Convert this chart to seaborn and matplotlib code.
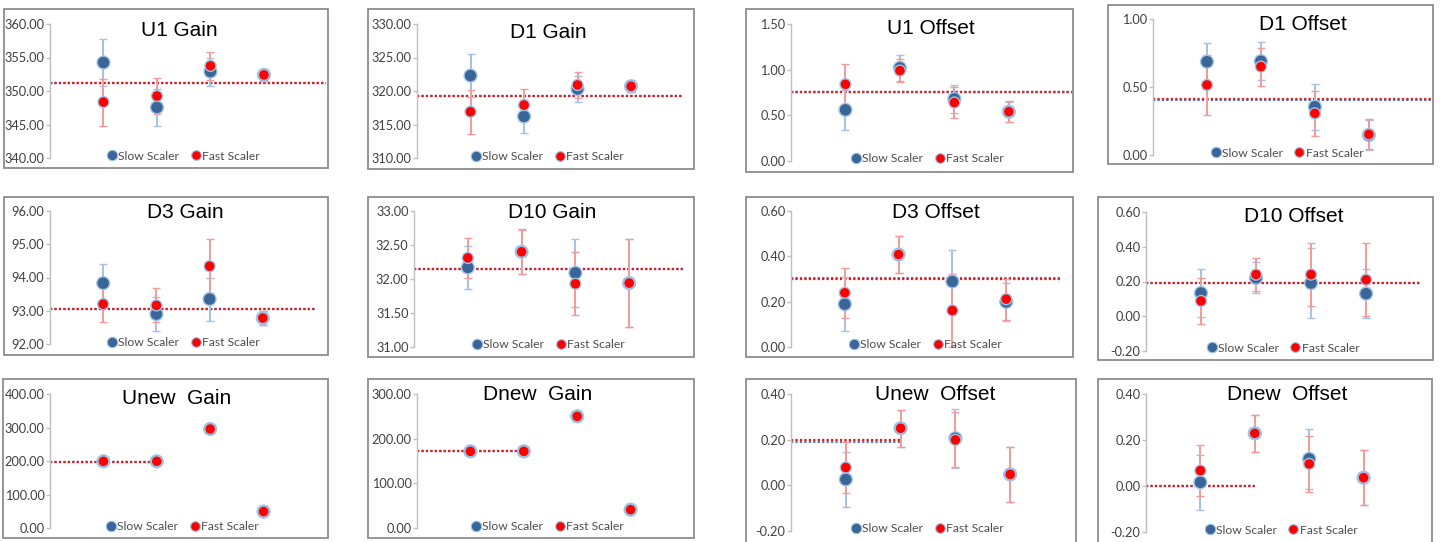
import matplotlib
matplotlib.use("Agg")
import matplotlib.pyplot as plt
from matplotlib.lines import Line2D
from matplotlib.patches import Rectangle
import pandas as pd
import seaborn as sns

W, H = 1440, 542

# ---- values ----
points = [1, 2, 3, 4]
series_names = ["Slow Scaler", "Fast Scaler"]

u1_gain_slow = [354.25, 347.55, 352.9, 352.4]
u1_gain_slow_err = [3.45, 2.7, 2.1, 0.9]
u1_gain_fast = [348.35, 349.25, 353.75, 352.4]
u1_gain_fast_err = [3.5, 2.65, 2.05, 0.9]
u1_gain_avg = [351.15, 351.15]

d1_gain_slow = [322.3, 316.2, 320.3, 320.7]
d1_gain_slow_err = [3.2, 2.4, 2.0, 0.8]
d1_gain_fast = [316.9, 317.9, 320.9, 320.7]
d1_gain_fast_err = [3.3, 2.45, 2.0, 0.9]
d1_gain_avg = [319.2, 319.2]

u1_offset_slow = [0.56, 1.02, 0.68, 0.54]
u1_offset_slow_err = [0.22, 0.145, 0.15, 0.11]
u1_offset_fast = [0.84, 0.99, 0.64, 0.54]
u1_offset_fast_err = [0.225, 0.13, 0.17, 0.115]
u1_offset_avg = [0.754, 0.754]

d1_offset_slow = [0.686, 0.69, 0.355, 0.147]
d1_offset_slow_err = [0.14, 0.14, 0.17, 0.11]
d1_offset_fast = [0.515, 0.65, 0.306, 0.152]
d1_offset_fast_err = [0.22, 0.14, 0.165, 0.11]
d1_offset_avg = [0.408, 0.41]

d3_gain_slow = [93.83, 92.9, 93.35, 92.78]
d3_gain_slow_err = [0.59, 0.5, 0.65, 0.2]
d3_gain_fast = [93.2, 93.16, 94.34, 92.78]
d3_gain_fast_err = [0.54, 0.51, 0.81, 0.21]
d3_gain_avg = [93.06, 93.06]

d10_gain_slow = [32.17, 32.4, 32.09, 31.94]
d10_gain_slow_err = [0.32, 0.33, 0.5, 0.65]
d10_gain_fast = [32.31, 32.4, 31.93, 31.94]
d10_gain_fast_err = [0.3, 0.32, 0.46, 0.65]
d10_gain_avg = [32.14, 32.14]

d3_offset_slow = [0.189, 0.408, 0.289, 0.199]
d3_offset_slow_err = [0.12, 0.08, 0.14, 0.085]
d3_offset_fast = [0.239, 0.408, 0.161, 0.211]
d3_offset_fast_err = [0.11, 0.08, 0.16, 0.09]
d3_offset_avg = [0.306, 0.299]

d10_offset_slow = [0.134, 0.221, 0.191, 0.13]
d10_offset_slow_err = [0.14, 0.09, 0.2, 0.14]
d10_offset_fast = [0.088, 0.24, 0.24, 0.21]
d10_offset_fast_err = [0.13, 0.095, 0.18, 0.21]
d10_offset_avg = [0.19, 0.19]

unew_gain_slow = [199.0, 199.0, 295.5, 49.0]
unew_gain_slow_err = [0.0, 0.0, 0.0, 0.0]
unew_gain_fast = [199.0, 199.0, 295.5, 49.0]
unew_gain_fast_err = [0.0, 0.0, 0.0, 0.0]
unew_gain_avg = [198.0, 198.0]

dnew_gain_slow = [171.6, 171.6, 250.0, 41.0]
dnew_gain_slow_err = [0.0, 0.0, 0.0, 0.0]
dnew_gain_fast = [171.6, 171.6, 250.0, 41.0]
dnew_gain_fast_err = [0.0, 0.0, 0.0, 0.0]
dnew_gain_avg = [171.6, 171.6]

unew_offset_slow = [0.026, 0.25, 0.206, 0.048]
unew_offset_slow_err = [0.12, 0.08, 0.13, 0.12]
unew_offset_fast = [0.078, 0.25, 0.199, 0.048]
unew_offset_fast_err = [0.11, 0.08, 0.12, 0.12]
unew_offset_avg = [0.189, 0.2]

dnew_offset_slow = [0.016, 0.229, 0.118, 0.036]
dnew_offset_slow_err = [0.12, 0.08, 0.13, 0.12]
dnew_offset_fast = [0.067, 0.229, 0.096, 0.036]
dnew_offset_fast_err = [0.11, 0.08, 0.12, 0.12]
dnew_offset_avg = [-0.002, -0.002]

titles = ["U1 Gain", "D1 Gain", "U1 Offset", "D1 Offset",
          "D3 Gain", "D10 Gain", "D3 Offset", "D10 Offset",
          "Unew  Gain", "Dnew  Gain", "Unew  Offset", "Dnew  Offset"]

panels = [
    (u1_gain_slow, u1_gain_slow_err, u1_gain_fast, u1_gain_fast_err, u1_gain_avg),
    (d1_gain_slow, d1_gain_slow_err, d1_gain_fast, d1_gain_fast_err, d1_gain_avg),
    (u1_offset_slow, u1_offset_slow_err, u1_offset_fast, u1_offset_fast_err, u1_offset_avg),
    (d1_offset_slow, d1_offset_slow_err, d1_offset_fast, d1_offset_fast_err, d1_offset_avg),
    (d3_gain_slow, d3_gain_slow_err, d3_gain_fast, d3_gain_fast_err, d3_gain_avg),
    (d10_gain_slow, d10_gain_slow_err, d10_gain_fast, d10_gain_fast_err, d10_gain_avg),
    (d3_offset_slow, d3_offset_slow_err, d3_offset_fast, d3_offset_fast_err, d3_offset_avg),
    (d10_offset_slow, d10_offset_slow_err, d10_offset_fast, d10_offset_fast_err, d10_offset_avg),
    (unew_gain_slow, unew_gain_slow_err, unew_gain_fast, unew_gain_fast_err, unew_gain_avg),
    (dnew_gain_slow, dnew_gain_slow_err, dnew_gain_fast, dnew_gain_fast_err, dnew_gain_avg),
    (unew_offset_slow, unew_offset_slow_err, unew_offset_fast, unew_offset_fast_err, unew_offset_avg),
    (dnew_offset_slow, dnew_offset_slow_err, dnew_offset_fast, dnew_offset_fast_err, dnew_offset_avg),
]

# y ranges and tick steps of every panel
y_ranges = [(340, 360, 5), (310, 330, 5), (0, 1.5, 0.5), (0, 1.0, 0.5),
            (92, 96, 1), (31, 33, 0.5), (0, 0.6, 0.2), (-0.2, 0.6, 0.2),
            (0, 400, 100), (0, 300, 100), (-0.2, 0.4, 0.2), (-0.2, 0.4, 0.2)]
# the average line runs across the whole plot, or only up to point 2
avg_span = [None] * 8 + [2] * 4

# ---- layout in pixels: chart frame, plot area, title and legend centres ----
frames = [(4, 9, 328, 168), (368, 9, 694, 169), (746, 9, 1073, 172), (1108, 5, 1433, 164),
          (4, 197, 328, 355), (368, 197, 694, 357), (746, 197, 1073, 357), (1098, 197, 1433, 360),
          (3, 379, 328, 538), (368, 379, 694, 538), (746, 379, 1076, 545), (1098, 379, 1432, 545)]
areas = [(50, 24, 326, 158), (417, 24, 683, 158), (791, 24, 1072, 161), (1153, 19, 1432, 155),
         (50, 211, 316, 344), (414, 211, 683, 347), (791, 211, 1060, 347), (1146, 212, 1420, 351),
         (50, 394, 317, 528), (417, 394, 684, 528), (791, 394, 1065, 531), (1146, 394, 1418, 532)]
x_max = [5.16, 4.97, 5.16, 5.17, 5.0, 5.0, 5.0, 4.98, 5.0, 5.0, 5.0, 5.0]
title_pos = [(179, 31), (548, 32), (931, 29), (1303, 24),
             (185, 213), (552, 212), (936, 212), (1294, 217),
             (177, 399), (538, 394), (935, 395), (1287, 395)]
legend_pos = [(183, 156), (547, 157), (927, 159), (1287, 153),
              (183, 343), (548, 345), (925, 345), (1283, 348),
              (182, 527), (547, 527), (927, 529), (1281, 530)]

SLOW = "#3B6497"
FAST = "#FF0000"
EDGE = "#9DC3E6"
SLOW_ERR = "#A8C1E0"
FAST_ERR = "#F59A9A"
TEXT = "#404040"
FONT = ["Lato", "DejaVu Sans"]

sns.set_style("white")
plt.rcParams["font.family"] = FONT


def fx(px):
    return px / W


def fy(py):
    return 1 - py / H


def draw_panel(fig, i):
    slow, slow_err, fast, fast_err, avg = panels[i]
    fl, ft, fr, fb = frames[i]
    fig.add_artist(Rectangle((fx(fl), fy(fb)), fx(fr - fl), (fb - ft) / H,
                             transform=fig.transFigure, facecolor="white",
                             edgecolor="#8C8C8C", linewidth=1.3, zorder=0))
    al, at, ar, ab = areas[i]
    ax = fig.add_axes([fx(al), fy(ab), fx(ar - al), (ab - at) / H])
    ax.set_facecolor("none")
    ax.set_zorder(1)

    # average lines (slow under fast)
    span = avg_span[i]
    for val, col in zip(avg, ["#4F81BD", "#E31A1C"]):
        if span is None:
            ax.axhline(val, color=col, lw=1.6, ls=(0, (1, 1)), zorder=1)
        else:
            ax.plot([0, span], [val, val], color=col, lw=1.6, ls=(0, (1, 1)), zorder=1)

    # error bars
    for vals, errs, col, capcol in [(slow, slow_err, SLOW_ERR, "#8FAED6"),
                                    (fast, fast_err, FAST_ERR, "#F04848")]:
        if max(errs) > 0:
            _, caps, bars = ax.errorbar(points, vals, yerr=errs, fmt="none",
                                        ecolor=col, elinewidth=1.4, capsize=3,
                                        capthick=1.0, zorder=2)
            for c in caps:
                c.set_color(capcol)

    df = pd.DataFrame({"point": points * 2, "value": slow + fast,
                       "scaler": [series_names[0]] * 4 + [series_names[1]] * 4})
    sns.scatterplot(data=df, x="point", y="value", hue="scaler", size="scaler",
                    palette={series_names[0]: SLOW, series_names[1]: FAST},
                    sizes={series_names[0]: 85, series_names[1]: 62},
                    edgecolor=EDGE, linewidth=1.0, legend=False, ax=ax, zorder=3)

    lo, hi, step = y_ranges[i]
    ax.set_xlim(0, x_max[i])
    ax.set_ylim(lo, hi)
    n = int(round((hi - lo) / step))
    ax.set_yticks([lo + k * step for k in range(n + 1)])
    ax.yaxis.set_major_formatter(matplotlib.ticker.FormatStrFormatter("%.2f"))
    ax.set_xticks([])
    ax.set_xlabel("")
    ax.set_ylabel("")
    for side in ["top", "right", "bottom"]:
        ax.spines[side].set_visible(False)
    ax.spines["left"].set_color("#BFBFBF")
    ax.spines["left"].set_linewidth(1.0)
    ax.tick_params(axis="y", length=3, width=1, color="#BFBFBF", pad=1,
                   labelsize=9.2, labelcolor=TEXT, left=True)

    tx, ty = title_pos[i]
    fig.text(fx(tx), fy(ty), titles[i], ha="center", va="center",
             fontsize=15, color="black", family=["Liberation Sans", "DejaVu Sans"])

    handles = [Line2D([], [], ls="", marker="o", markersize=7.5, markerfacecolor=SLOW,
                      markeredgecolor=EDGE, markeredgewidth=0.8),
               Line2D([], [], ls="", marker="o", markersize=7, markerfacecolor=FAST,
                      markeredgecolor=EDGE, markeredgewidth=0.8)]
    lx, ly = legend_pos[i]
    ax.legend(handles, series_names, loc="center", bbox_to_anchor=(fx(lx), fy(ly)),
              bbox_transform=fig.transFigure, ncol=2, frameon=False, fontsize=8.7,
              handlelength=0.8, handletextpad=0.1, columnspacing=1.0,
              borderpad=0, labelcolor="#4D4D4D")


def main():
    fig = plt.figure(figsize=(W / 100, H / 100), dpi=100)
    fig.patch.set_facecolor("white")
    for i in range(len(panels)):
        draw_panel(fig, i)
    fig.savefig("out.png", dpi=100, facecolor="white")


if __name__ == "__main__":
    main()
